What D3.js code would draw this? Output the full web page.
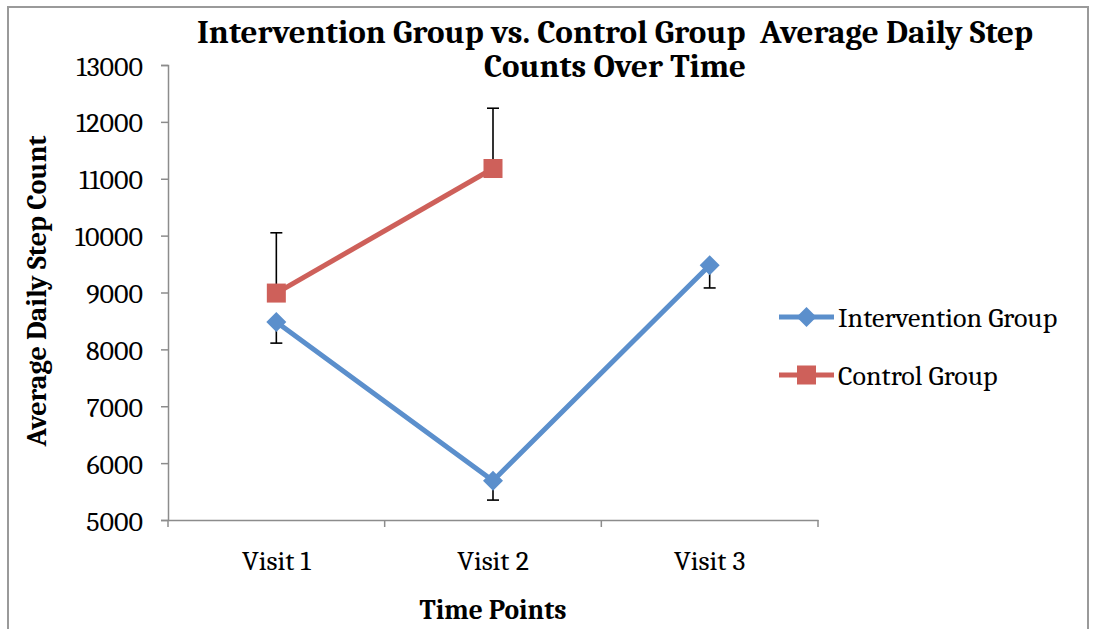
<!DOCTYPE html>
<html><head><meta charset="utf-8">
<script src="https://cdn.jsdelivr.net/npm/d3@7/dist/d3.min.js"></script>
<style>html,body{margin:0;padding:0;background:#fff;}svg{display:block;}</style>
</head><body>
<script>
const categories = ["Visit 1", "Visit 2", "Visit 3"];
const interventionValues = [8480, 5690, 9480];
const interventionErrLow = [8110, 5350, 9080];
const controlValues = [8990, 11180, null];
const controlErrHigh = [10050, 12240, null];
const yTicks = [5000, 6000, 7000, 8000, 9000, 10000, 11000, 12000, 13000];
const seriesNames = ["Intervention Group", "Control Group"];
const titleLines = ["Intervention Group vs. Control Group\u00a0 Average Daily Step", "Counts Over Time"];

const W = 1097, H = 629;
const blue = "#5B8FCC", red = "#CE605A";
const serif = "Cambria, 'Liberation Serif', 'DejaVu Serif', serif";

const svg = d3.select("body").append("svg").attr("width", W).attr("height", H);
svg.append("rect").attr("x", 8).attr("y", 7).attr("width", 1080).attr("height", 640)
  .attr("fill", "#fff").attr("stroke", "#9a9a9a").attr("stroke-width", 2);

const x = d3.scaleBand().domain(categories).range([168, 818]);
const y = d3.scaleLinear().domain([5000, 13000]).range([520, 65]);
const cx = c => x(c) + x.bandwidth() / 2;

// Y axis
const yAxis = svg.append("g").attr("transform", "translate(168,0)")
  .call(d3.axisLeft(y).tickValues(yTicks).tickSize(7).tickPadding(18).tickFormat(d3.format("d")));
yAxis.select(".domain").attr("stroke", "#8c8c8c").attr("stroke-width", 1.5);
yAxis.selectAll(".tick line").attr("stroke", "#8c8c8c").attr("stroke-width", 1.5);
yAxis.attr("font-size", 28).attr("font-family", serif);
yAxis.selectAll("text").attr("font-family", serif).attr("font-size", 28).attr("fill", "#000").attr("dy", "0.36em");

// X axis
const xAxis = svg.append("g").attr("transform", "translate(0,520)")
  .call(d3.axisBottom(x).tickSize(0).tickPadding(32));
xAxis.select(".domain").attr("stroke", "#8c8c8c").attr("stroke-width", 1.5);
xAxis.attr("font-size", 28).attr("font-family", serif);
xAxis.selectAll("text").attr("font-family", serif).attr("font-size", 28).attr("fill", "#000").attr("dy", "0").attr("y", 50);
// category boundary ticks
const bounds = categories.map(c => x(c)).concat([x(categories[categories.length - 1]) + x.bandwidth()]);
xAxis.selectAll(".bt").data(bounds).enter().append("line")
  .attr("x1", d => d).attr("x2", d => d).attr("y1", 0).attr("y2", 7)
  .attr("stroke", "#8c8c8c").attr("stroke-width", 1.5);

// Error bars
const errG = svg.append("g").attr("stroke", "#000").attr("stroke-width", 1.6);
function errBar(c, v, e) {
  if (v == null || e == null) return;
  errG.append("line").attr("x1", cx(c)).attr("x2", cx(c)).attr("y1", y(v)).attr("y2", y(e));
  errG.append("line").attr("x1", cx(c) - 6).attr("x2", cx(c) + 6).attr("y1", y(e)).attr("y2", y(e));
}
categories.forEach((c, i) => errBar(c, interventionValues[i], interventionErrLow[i]));
categories.forEach((c, i) => errBar(c, controlValues[i], controlErrHigh[i]));

// Lines
const line = d3.line().defined(d => d.v != null).x(d => cx(d.c)).y(d => y(d.v));
const iData = categories.map((c, i) => ({c, v: interventionValues[i]}));
const cData = categories.map((c, i) => ({c, v: controlValues[i]}));
svg.append("path").datum(iData).attr("d", line).attr("fill", "none").attr("stroke", blue).attr("stroke-width", 5);
svg.append("path").datum(cData).attr("d", line).attr("fill", "none").attr("stroke", red).attr("stroke-width", 5);

// Markers
const diamond = (px, py, s) => `M${px},${py - s}L${px + s},${py}L${px},${py + s}L${px - s},${py}Z`;
svg.selectAll(".dm").data(iData.filter(d => d.v != null)).enter().append("path")
  .attr("d", d => diamond(cx(d.c), y(d.v), 10)).attr("fill", blue);
svg.selectAll(".sq").data(cData.filter(d => d.v != null)).enter().append("rect")
  .attr("x", d => cx(d.c) - 9.5).attr("y", d => y(d.v) - 9.5).attr("width", 19).attr("height", 19).attr("fill", red);

// Title
const titleWidths = [836, 262];
svg.selectAll(".title").data(titleLines).enter().append("text")
  .attr("x", 615).attr("y", (d, i) => 43 + i * 34).attr("text-anchor", "middle")
  .attr("font-family", serif).attr("font-weight", "bold").attr("font-size", 32).attr("fill", "#000")
  .attr("textLength", (d, i) => titleWidths[i]).attr("lengthAdjust", "spacingAndGlyphs")
  .text(d => d);

// Axis titles
svg.append("text").attr("x", 493).attr("y", 619).attr("text-anchor", "middle")
  .attr("font-family", serif).attr("font-weight", "bold").attr("font-size", 27.5).text("Time Points");
svg.append("text").attr("transform", "translate(46,291) rotate(-90)").attr("text-anchor", "middle")
  .attr("font-family", serif).attr("font-weight", "bold").attr("font-size", 28).text("Average Daily Step Count");

// Legend
const leg = svg.selectAll(".leg").data(seriesNames).enter().append("g")
  .attr("transform", (d, i) => `translate(779,${317 + i * 58})`);
leg.append("line").attr("x1", 0).attr("x2", 55).attr("y1", 0).attr("y2", 0)
  .attr("stroke", (d, i) => i === 0 ? blue : red).attr("stroke-width", 5);
leg.filter((d, i) => i === 0).append("path").attr("d", diamond(27.5, 0, 10)).attr("fill", blue);
leg.filter((d, i) => i === 1).append("rect").attr("x", 18).attr("y", -9.5).attr("width", 19).attr("height", 19).attr("fill", red);
leg.append("text").attr("x", 59).attr("y", 0).attr("dy", "0.35em")
  .attr("font-family", serif).attr("font-size", 28).text(d => d);
</script>
</body></html>
